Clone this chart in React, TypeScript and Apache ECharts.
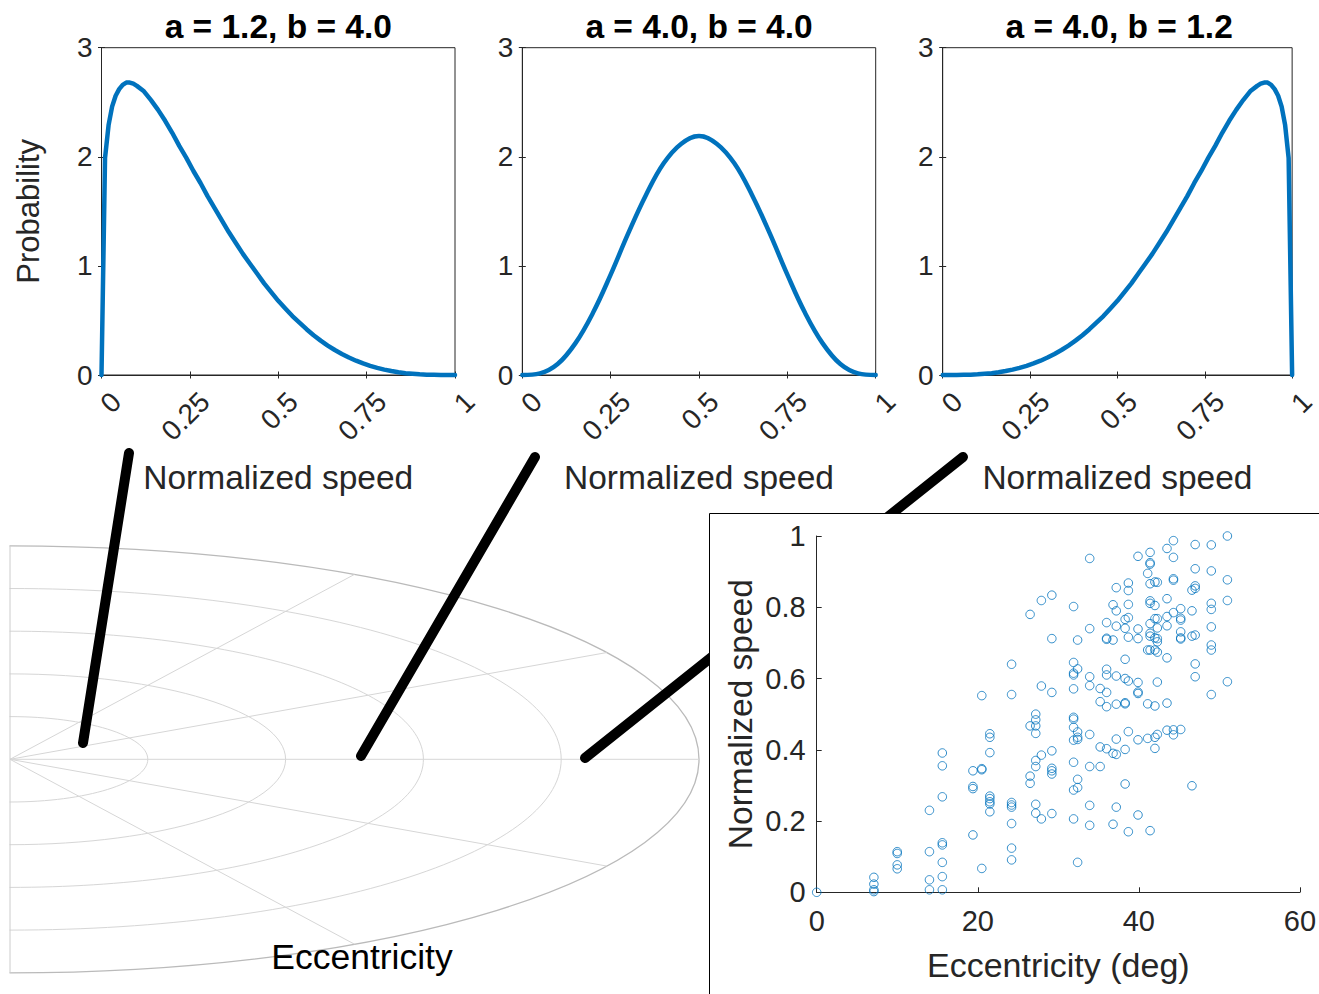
import React, { useEffect, useRef } from "react";
import * as echarts from "echarts";

// ---------- data ----------
const panelTitles = ["a = 1.2, b = 4.0", "a = 4.0, b = 4.0", "a = 4.0, b = 1.2"];

const curve1X = [0, 0.01, 0.02, 0.03, 0.04, 0.05, 0.06, 0.07, 0.08, 0.09, 0.1, 0.12, 0.14, 0.16, 0.18, 0.2, 0.22, 0.24, 0.26, 0.28, 0.3, 0.32, 0.34, 0.36, 0.38, 0.4, 0.42, 0.44, 0.46, 0.48, 0.5, 0.52, 0.54, 0.56, 0.58, 0.6, 0.62, 0.64, 0.66, 0.68, 0.7, 0.72, 0.74, 0.76, 0.78, 0.8, 0.82, 0.84, 0.86, 0.88, 0.9, 0.92, 0.94, 0.96, 0.98, 1];
const curve1Y = [0, 1.99, 2.29, 2.46, 2.56, 2.62, 2.66, 2.68, 2.68, 2.67, 2.65, 2.6, 2.52, 2.43, 2.33, 2.22, 2.1, 1.99, 1.87, 1.76, 1.64, 1.53, 1.42, 1.31, 1.21, 1.11, 1.02, 0.93, 0.84, 0.76, 0.68, 0.61, 0.54, 0.48, 0.42, 0.365, 0.315, 0.27, 0.229, 0.193, 0.16, 0.131, 0.106, 0.084, 0.065, 0.049, 0.036, 0.025, 0.017, 0.011, 0.006, 0.003, 0.0014, 0.0004, 0.0001, 0];

const curve2X = [0, 0.05, 0.1, 0.15, 0.2, 0.25, 0.3, 0.35, 0.4, 0.45, 0.5, 0.55, 0.6, 0.65, 0.7, 0.75, 0.8, 0.85, 0.9, 0.95, 1];
const curve2Y = [0, 0.015, 0.1, 0.29, 0.57, 0.92, 1.3, 1.65, 1.94, 2.12, 2.19, 2.12, 1.94, 1.65, 1.3, 0.92, 0.57, 0.29, 0.1, 0.015, 0];

const curve3X = [0, 0.02, 0.04, 0.06, 0.08, 0.1, 0.12, 0.14, 0.16, 0.18, 0.2, 0.22, 0.24, 0.26, 0.28, 0.3, 0.32, 0.34, 0.36, 0.38, 0.4, 0.42, 0.44, 0.46, 0.48, 0.5, 0.52, 0.54, 0.56, 0.58, 0.6, 0.62, 0.64, 0.66, 0.68, 0.7, 0.72, 0.74, 0.76, 0.78, 0.8, 0.82, 0.84, 0.86, 0.88, 0.9, 0.91, 0.92, 0.93, 0.94, 0.95, 0.96, 0.97, 0.98, 0.99, 1];
const curve3Y = [0, 0.0001, 0.0004, 0.0014, 0.003, 0.006, 0.011, 0.017, 0.025, 0.036, 0.049, 0.065, 0.084, 0.106, 0.131, 0.16, 0.193, 0.229, 0.27, 0.315, 0.365, 0.42, 0.48, 0.54, 0.61, 0.68, 0.76, 0.84, 0.93, 1.02, 1.11, 1.21, 1.31, 1.42, 1.53, 1.64, 1.76, 1.87, 1.99, 2.1, 2.22, 2.33, 2.43, 2.52, 2.6, 2.65, 2.67, 2.68, 2.68, 2.66, 2.62, 2.56, 2.46, 2.29, 1.99, 0];

const speedTicks = [0, 0.25, 0.5, 0.75, 1];

// scatter: eccentricity columns and the normalized speeds found in each
const eccentricityColumns = [0, 7.1, 10, 14, 15.6, 19.4, 20.5, 21.5, 24.2, 26.5, 27.2, 27.9, 29.2, 31.9, 32.4, 33.9, 35.2, 36.0, 36.8, 37.2, 38.3, 38.7, 39.9, 41.1, 41.4, 42.0, 42.3, 43.5, 44.3, 45.2, 46.6, 47.0, 49.0, 51.0];
const speedByColumn = [
  [0],
  [0.042, 0.023, 0.007, 0.002],
  [0.114, 0.109, 0.077, 0.066],
  [0.23, 0.114, 0.035, 0.007],
  [0.391, 0.355, 0.268, 0.139, 0.133, 0.084, 0.044, 0.007],
  [0.341, 0.297, 0.291, 0.161],
  [0.552, 0.347, 0.344, 0.067],
  [0.445, 0.435, 0.392, 0.27, 0.263, 0.254, 0.248, 0.226],
  [0.64, 0.555, 0.252, 0.245, 0.239, 0.193, 0.124, 0.091],
  [0.78, 0.467, 0.326, 0.306],
  [0.5, 0.484, 0.467, 0.446, 0.37, 0.353, 0.247, 0.222],
  [0.819, 0.579, 0.385, 0.206],
  [0.834, 0.712, 0.561, 0.397, 0.348, 0.341, 0.332, 0.221],
  [0.802, 0.645, 0.615, 0.61, 0.571, 0.491, 0.486, 0.463, 0.427, 0.365, 0.287, 0.206],
  [0.708, 0.627, 0.45, 0.435, 0.429, 0.317, 0.294, 0.084],
  [0.937, 0.74, 0.605, 0.58, 0.443, 0.353, 0.244, 0.188],
  [0.572, 0.535, 0.408, 0.353],
  [0.757, 0.713, 0.71, 0.626, 0.61, 0.561, 0.521, 0.403],
  [0.807, 0.708, 0.39, 0.191],
  [0.855, 0.79, 0.747, 0.607, 0.528, 0.43, 0.387, 0.239],
  [0.766, 0.741, 0.654, 0.6, 0.532, 0.529, 0.401, 0.304],
  [0.868, 0.847, 0.808, 0.771, 0.716, 0.593, 0.451, 0.17],
  [0.943, 0.739, 0.712, 0.589, 0.562, 0.558, 0.428, 0.217],
  [0.895, 0.68, 0.529, 0.432],
  [0.954, 0.925, 0.921, 0.866, 0.818, 0.811, 0.754, 0.727, 0.719, 0.68, 0.173],
  [0.871, 0.805, 0.768, 0.714, 0.68, 0.523, 0.435, 0.404],
  [0.87, 0.768, 0.742, 0.712, 0.703, 0.674, 0.59, 0.443],
  [0.965, 0.824, 0.774, 0.748, 0.658, 0.531, 0.455],
  [0.987, 0.94, 0.88, 0.876, 0.785, 0.456, 0.442],
  [0.796, 0.769, 0.764, 0.731, 0.714, 0.711, 0.457],
  [0.848, 0.79, 0.719, 0.299],
  [0.976, 0.908, 0.86, 0.853, 0.722, 0.641, 0.605],
  [0.975, 0.902, 0.811, 0.794, 0.745, 0.694, 0.68, 0.555],
  [1.0, 0.877, 0.819, 0.591],
];

// ---------- styling / layout ----------
const FONT = '"Liberation Sans", Arial, Helvetica, sans-serif';
const AX = "#262626";
const BLUE = "#0072BD";
const GRID_GREY = "#d6d6d6";

const topGrids = [
  { left: 101.5, top: 47.7, width: 353.5, height: 327.3 },
  { left: 522.3, top: 47.7, width: 353.4, height: 327.3 },
  { left: 942.7, top: 47.7, width: 353.0, height: 327.3 },
];
const scatterGrid = { left: 816.7, top: 536, width: 484.6, height: 356.3 };

// polar-like decoration (bottom left)
const polarCx = 10;
const polarCy = 759.3;
const ringRx = [137.8, 275.6, 413.4, 551.2, 689];
const ringRy = [42.7, 85.4, 128.1, 170.8, 213.5];
const spokeAngles = [60, 30, 0, -30, -60];

function App() {
  const ref = useRef<HTMLDivElement>(null);

  useEffect(() => {
    if (!ref.current) return;
    const chart = echarts.init(ref.current, undefined, { renderer: "svg" });

    const curves = [
      { data: curve1X.map((x, i) => [x, curve1Y[i]]), smooth: false },
      { data: curve2X.map((x, i) => [x, curve2Y[i]]), smooth: 0.4 },
      { data: curve3X.map((x, i) => [x, curve3Y[i]]), smooth: false },
    ];
    const scatterData: number[][] = [];
    eccentricityColumns.forEach((e, i) => {
      speedByColumn[i].forEach((s) => scatterData.push([e, s]));
    });

    const grids: any[] = topGrids.map((g) => ({
      ...g,
      show: true,
      borderColor: AX,
      borderWidth: 1,
      backgroundColor: "transparent",
      containLabel: false,
    }));
    grids.push({ ...scatterGrid, show: false, containLabel: false });

    const xAxes: any[] = [];
    const yAxes: any[] = [];
    topGrids.forEach((_, i) => {
      xAxes.push({
        gridIndex: i,
        type: "value",
        position: "bottom",
        min: 0,
        max: 1,
        interval: 0.25,
        axisLine: { show: true, lineStyle: { color: AX, width: 1 } },
        axisTick: { show: true, inside: true, length: 3.5, lineStyle: { color: AX } },
        axisLabel: {
          show: true,
          rotate: 45,
          interval: 0,
          showMinLabel: true,
          showMaxLabel: true,
          hideOverlap: false,
          fontSize: 28,
          fontFamily: FONT,
          color: AX,
          margin: 17,
          verticalAlign: "top",
          padding: [0, -7, 0, 0],
          formatter: (v: number) => (speedTicks.indexOf(v) >= 0 ? String(v) : ""),
        },
        splitLine: { show: false },
        name: "Normalized speed",
        nameLocation: "middle",
        nameGap: 85,
        nameTextStyle: { fontSize: 33.5, fontFamily: FONT, color: AX },
      });
      xAxes.push({
        gridIndex: i,
        type: "value",
        position: "top",
        min: 0,
        max: 1,
        interval: 0.25,
        axisLine: { show: true, lineStyle: { color: AX, width: 1 } },
        axisTick: { show: true, inside: true, length: 3.5, lineStyle: { color: AX } },
        axisLabel: { show: false },
        splitLine: { show: false },
      });
      yAxes.push({
        gridIndex: i,
        type: "value",
        position: "left",
        min: 0,
        max: 3,
        interval: 1,
        axisLine: { show: true, lineStyle: { color: AX, width: 1 } },
        axisTick: { show: true, inside: true, length: 3.5, lineStyle: { color: AX } },
        axisLabel: { show: true, fontSize: 28, fontFamily: FONT, color: AX, margin: 9 },
        splitLine: { show: false },
        name: i === 0 ? "Probability" : "",
        nameLocation: "middle",
        nameRotate: 90,
        nameGap: 58,
        nameTextStyle: { fontSize: 31, fontFamily: FONT, color: AX },
      });
      yAxes.push({
        gridIndex: i,
        type: "value",
        position: "right",
        min: 0,
        max: 3,
        interval: 1,
        axisLine: { show: true, lineStyle: { color: AX, width: 1 } },
        axisTick: { show: true, inside: true, length: 3.5, lineStyle: { color: AX } },
        axisLabel: { show: false },
        splitLine: { show: false },
      });
    });
    xAxes.push({
      gridIndex: 3,
      type: "value",
      min: 0,
      max: 60,
      interval: 20,
      axisLine: { show: true, lineStyle: { color: AX, width: 1 } },
      axisTick: { show: true, inside: true, length: 5, lineStyle: { color: AX } },
      axisLabel: { show: true, fontSize: 29, fontFamily: FONT, color: AX, margin: 14 },
      splitLine: { show: false },
      name: "Eccentricity (deg)",
      nameLocation: "middle",
      nameGap: 56,
      nameTextStyle: { fontSize: 34, fontFamily: FONT, color: AX },
    });
    yAxes.push({
      gridIndex: 3,
      type: "value",
      min: 0,
      max: 1,
      interval: 0.2,
      axisLine: { show: true, lineStyle: { color: AX, width: 1 } },
      axisTick: { show: true, inside: true, length: 5, lineStyle: { color: AX } },
      axisLabel: { show: true, fontSize: 29, fontFamily: FONT, color: AX, margin: 11 },
      splitLine: { show: false },
      name: "Normalized speed",
      nameLocation: "middle",
      nameRotate: 90,
      nameGap: 59,
      nameTextStyle: { fontSize: 33.5, fontFamily: FONT, color: AX },
    });

    const series: any[] = curves.map((c, i) => ({
      type: "line",
      xAxisIndex: 2 * i,
      yAxisIndex: 2 * i,
      data: c.data,
      showSymbol: false,
      symbol: "none",
      smooth: c.smooth,
      clip: false,
      silent: true,
      lineStyle: { color: BLUE, width: 4.5, cap: "round", join: "round" },
      z: 3,
    }));
    series.push({
      type: "scatter",
      xAxisIndex: 6,
      yAxisIndex: 6,
      data: scatterData,
      symbol: "circle",
      symbolSize: 8.5,
      clip: false,
      silent: true,
      itemStyle: { color: "rgba(0,0,0,0)", borderColor: BLUE, borderWidth: 1 },
      z: 3,
    });

    const graphics: any[] = [];
    ringRx.forEach((rx, i) => {
      graphics.push({
        type: "ellipse",
        z: -10,
        silent: true,
        shape: { cx: polarCx, cy: polarCy, rx, ry: ringRy[i] },
        style: {
          fill: "none",
          stroke: i === ringRx.length - 1 ? "#bababa" : GRID_GREY,
          lineWidth: i === ringRx.length - 1 ? 1.3 : 1,
        },
      });
    });
    const outerRx = ringRx[ringRx.length - 1];
    const outerRy = ringRy[ringRy.length - 1];
    spokeAngles.forEach((deg) => {
      const t = (deg * Math.PI) / 180;
      graphics.push({
        type: "line",
        z: -10,
        silent: true,
        shape: {
          x1: polarCx,
          y1: polarCy,
          x2: polarCx + outerRx * Math.cos(t),
          y2: polarCy - outerRy * Math.sin(t),
        },
        style: { stroke: GRID_GREY, lineWidth: 1 },
      });
    });
    graphics.push({
      type: "rect",
      z: -9,
      silent: true,
      shape: { x: 0, y: 500, width: polarCx - 0.5, height: 494 },
      style: { fill: "#ffffff", stroke: "none" },
    });
    graphics.push({
      type: "line",
      z: -8,
      silent: true,
      shape: { x1: polarCx, y1: polarCy - outerRy, x2: polarCx, y2: polarCy + outerRy },
      style: { stroke: "#cccccc", lineWidth: 1 },
    });
    graphics.push({
      type: "text",
      z: -8,
      silent: true,
      x: 362,
      y: 957,
      style: {
        text: "Eccentricity",
        fontSize: 35.5,
        fontFamily: FONT,
        fill: "#000000",
        align: "center",
        verticalAlign: "middle",
      },
    });
    // thick connector lines
    const connectors = [
      [83, 743, 129, 453],
      [361, 756, 535, 457],
      [585, 758, 963, 457],
    ];
    connectors.forEach(([x1, y1, x2, y2]) => {
      graphics.push({
        type: "line",
        z: -5,
        silent: true,
        shape: { x1, y1, x2, y2 },
        style: { stroke: "#000000", lineWidth: 10, lineCap: "round" },
      });
    });
    // inset panel
    graphics.push({
      type: "rect",
      z: -2,
      silent: true,
      shape: { x: 709.5, y: 513.5, width: 640, height: 500 },
      style: { fill: "#ffffff", stroke: "#000000", lineWidth: 1 },
    });

    const option: any = {
      animation: false,
      backgroundColor: "#ffffff",
      textStyle: { fontFamily: FONT },
      title: panelTitles.map((t, i) => ({
        text: t,
        left: topGrids[i].left + topGrids[i].width / 2,
        top: 9,
        textAlign: "center",
        padding: 0,
        textStyle: { fontSize: 33.5, fontWeight: "bold", fontFamily: FONT, color: "#000000" },
      })),
      grid: grids,
      xAxis: xAxes,
      yAxis: yAxes,
      series,
      graphic: { elements: graphics },
    };

    chart.setOption(option);
    return () => chart.dispose();
  }, []);

  return (
    <div
      ref={ref}
      style={{ position: "absolute", left: 0, top: 0, width: 1319, height: 994, background: "#fff" }}
    />
  );
}

export default App;
